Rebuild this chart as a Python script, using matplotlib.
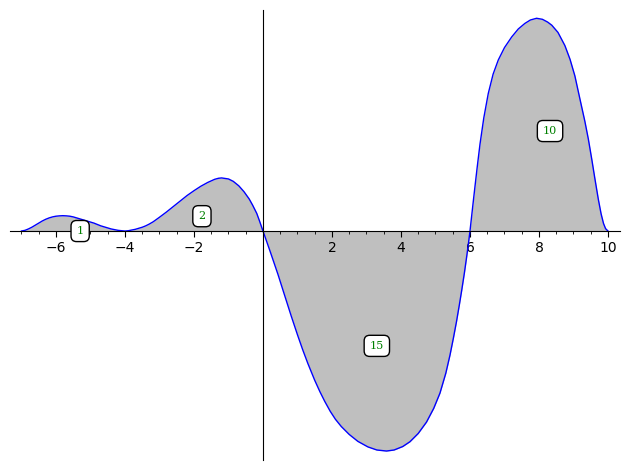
import numpy as np
import matplotlib
matplotlib.use("Agg")
import matplotlib.pyplot as plt
from matplotlib.ticker import MultipleLocator

# curve samples (y in arbitrary units)
xs = [-7.0, -6.9, -6.8, -6.7, -6.6, -6.5, -6.4, -6.3, -6.2, -6.1, -6.0, -5.9, -5.8, -5.7,
      -5.6, -5.5, -5.4, -5.3, -5.2, -5.1, -5.0, -4.9, -4.8, -4.7, -4.6, -4.5, -4.4, -4.3,
      -4.2, -4.1, -4.0,
      -3.9, -3.8, -3.7, -3.6, -3.5, -3.4, -3.3, -3.18, -3.0, -2.8, -2.6, -2.4, -2.2, -2.0,
      -1.8, -1.6, -1.4, -1.29, -1.2, -1.0, -0.86, -0.7, -0.55, -0.4, -0.3, -0.18, -0.1, 0.0,
      0.2, 0.435, 0.6, 0.82, 1.0, 1.15, 1.30, 1.5, 1.65, 1.79, 1.95, 2.1, 2.27, 2.5, 2.75,
      3.04, 3.3, 3.58, 3.8, 4.05, 4.26, 4.5, 4.74, 4.95, 5.13, 5.3, 5.42, 5.52, 5.61, 5.69,
      5.76, 5.84, 5.91, 5.96, 6.0,
      6.05, 6.1, 6.15, 6.21, 6.29, 6.4, 6.53, 6.67, 6.82, 7.0, 7.21, 7.4, 7.59, 7.75, 7.93, 8.1,
      8.25, 8.37, 8.55, 8.75, 8.9, 9.04, 9.18, 9.33, 9.43, 9.53, 9.62, 9.72, 9.80, 9.87,
      9.93, 10.0]
ys = [0.0, 0.02, 0.06, 0.11, 0.17, 0.23, 0.29, 0.34, 0.38, 0.41, 0.43, 0.44, 0.445, 0.44,
      0.43, 0.41, 0.38, 0.35, 0.32, 0.29, 0.26, 0.23, 0.19, 0.15, 0.12, 0.09, 0.06, 0.04,
      0.02, 0.01, 0.0,
      0.01, 0.03, 0.05, 0.08, 0.11, 0.15, 0.20, 0.27, 0.40, 0.55, 0.71, 0.87, 1.03, 1.17,
      1.30, 1.41, 1.50, 1.53, 1.54, 1.51, 1.44, 1.31, 1.14, 0.93, 0.75, 0.51, 0.29, 0.0,
      -0.57, -1.26, -1.78, -2.47, -3.01, -3.44, -3.84, -4.33, -4.66, -4.94, -5.23, -5.46, -5.67, -5.90, -6.10,
      -6.26, -6.35, -6.38, -6.35, -6.25, -6.11, -5.87, -5.54, -5.14, -4.70, -4.12, -3.60, -3.10, -2.62, -2.15,
      -1.72, -1.20, -0.70, -0.32, 0.0,
      0.45, 0.90, 1.34, 1.86, 2.52, 3.28, 3.99, 4.55, 4.96, 5.32, 5.63, 5.86, 6.02, 6.12, 6.17, 6.14,
      6.06, 5.97, 5.76, 5.38, 4.98, 4.50, 3.86, 3.18, 2.67, 2.08, 1.52, 0.92, 0.50, 0.22,
      0.07, 0.0]

# area labels
label_text = ["1", "2", "15", "10"]
label_x = [-5.30, -1.77, 3.30, 8.32]
label_y = [0.0, 0.43, -3.33, 2.90]

fig = plt.figure(figsize=(6.3, 4.7), dpi=100)
ax = fig.add_axes([10 / 630, 10 / 470, 610 / 630, 450 / 470])

ax.fill_between(xs, ys, 0, color="#808080", alpha=0.5, linewidth=0)
ax.plot(xs, ys, color="blue", lw=1.0)

for t, lx, ly in zip(label_text, label_x, label_y):
    ax.text(lx, ly, t, color="green", family="DejaVu Serif", fontsize=8,
            ha="center", va="center",
            bbox=dict(boxstyle="round,pad=0.5", fc="white", ec="black", lw=1.0))

ax.set_xlim(-7.333, 10.348)
ax.set_ylim(-6.64, 6.41)

ax.spines["left"].set_position(("data", 0))
ax.spines["bottom"].set_position(("data", 0))
ax.spines["top"].set_visible(False)
ax.spines["right"].set_visible(False)

ax.xaxis.set_minor_locator(MultipleLocator(0.5))
ax.set_xticks([-6, -4, -2, 2, 4, 6, 8, 10])
ax.tick_params(axis="x", which="major", direction="out", length=4, labelsize=10)
ax.tick_params(axis="x", which="minor", direction="out", length=2)
ax.set_yticks([])
ax.patch.set_alpha(0)

fig.savefig("out.png", dpi=100)
plt.close(fig)
